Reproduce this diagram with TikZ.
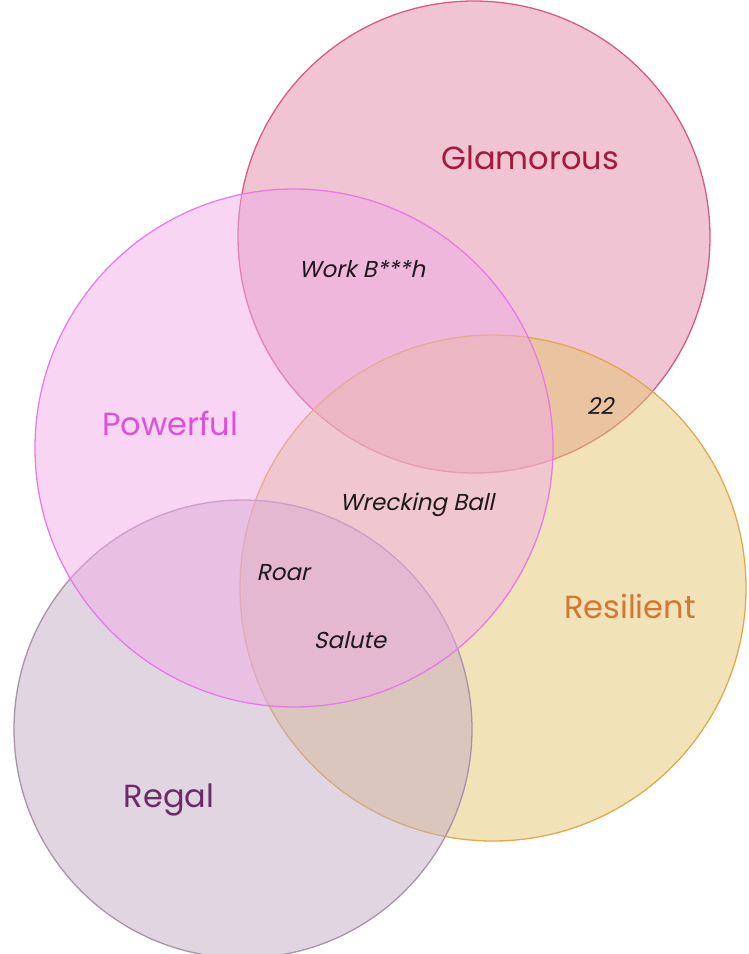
\documentclass[tikz,border=0pt]{standalone}
\usepackage{fontspec}
\setmainfont{Poppins}
\newfontfamily\songfont{Poppins}[FakeSlant=0.22]
\definecolor{glamfill}{RGB}{225,137,165}
\definecolor{glamline}{RGB}{214,84,124}
\definecolor{glamtext}{RGB}{166,24,62}
\definecolor{powfill}{RGB}{239,171,231}
\definecolor{powline}{RGB}{228,120,230}
\definecolor{powtext}{RGB}{222,80,214}
\definecolor{resfill}{RGB}{229,197,113}
\definecolor{resline}{RGB}{224,166,70}
\definecolor{restext}{RGB}{208,120,52}
\definecolor{regfill}{RGB}{197,171,197}
\definecolor{regline}{RGB}{166,142,168}
\definecolor{regtext}{RGB}{106,44,104}
\definecolor{songtext}{RGB}{30,24,30}
\begin{document}
\begin{tikzpicture}[x=1pt,y=-1pt,
  setcircle/.style={circle,inner sep=0pt,outer sep=0pt,line width=1.3pt,fill opacity=0.5,draw opacity=0.95},
  setname/.style={font=\fontsize{32}{32}\selectfont,inner sep=0pt},
  song/.style={font=\songfont\fontsize{23}{23}\selectfont,text=songtext,inner sep=0pt}]
\useasboundingbox (0,0) rectangle (749,954);
% the four sets, back to front
\node[setcircle,fill=glamfill,draw=glamline,minimum size=472pt] (glam) at (474,237) {};
\node[setcircle,fill=resfill,draw=resline,minimum size=506pt] (res) at (493,588) {};
\node[setcircle,fill=regfill,draw=regline,minimum size=458pt] (reg) at (243,729) {};
\node[setcircle,fill=powfill,draw=powline,minimum size=518pt] (pow) at (294,448) {};
% set names
\node[setname,text=glamtext] (glamname) at (530,158) {Glamorous};
\node[setname,text=powtext] (powname) at (170,423) {Powerful};
\node[setname,text=restext] (resname) at (630,606) {Resilient};
\node[setname,text=regtext] (regname) at (169,800) {Regal};
% songs in the overlaps
\node[song] (work) at (362,269) {Work B***h};
\node[song] (twentytwo) at (600,406) {22};
\node[song] (wrecking) at (417,505) {Wrecking Ball};
\node[song] (roar) at (283,573) {Roar};
\node[song] (salute) at (350,640) {Salute};
\end{tikzpicture}
\end{document}
